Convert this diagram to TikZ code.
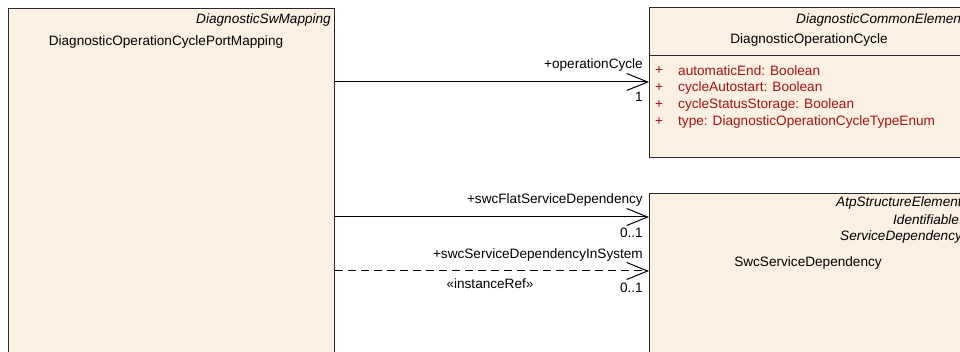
\documentclass[tikz,border=0pt]{standalone}
\usepackage{fontspec}
\setmainfont{Liberation Sans}
\usetikzlibrary{arrows.meta}
\definecolor{boxfill}{RGB}{251,240,225}
\definecolor{boxline}{RGB}{40,40,40}
\definecolor{attr}{RGB}{160,20,20}
\tikzset{
  umlbox/.style={draw=boxline, line width=1.2pt, fill=boxfill, anchor=north west, inner sep=0pt},
  txt/.style={inner sep=0pt, font=\fontsize{13.6}{15}\selectfont},
  stereo/.style={txt, font=\fontsize{13.6}{15}\selectfont\itshape},
  attrtxt/.style={txt, text=attr, anchor=west},
  assoc/.style={line width=1pt, -{Straight Barb[length=21pt,width=17pt,line width=1pt]}},
  lbl/.style={txt, anchor=east},
}
\begin{document}
\begin{tikzpicture}[x=1pt,y=-1pt]
\useasboundingbox (0,0) rectangle (960,352);
\clip (0,0) rectangle (960,352);
% boxes
\node[umlbox, minimum width=326, minimum height=400] (map) at (8,8) {};
\node[umlbox, minimum width=400, minimum height=150] (opc) at (649,7) {};
\node[umlbox, minimum width=400, minimum height=300] (swc) at (649,193) {};
\draw[boxline, line width=1pt] (opc.west |- 0,56) coordinate (sepL) -- (opc.east |- 0,56) coordinate (sepR);
% left box texts
\node[stereo, anchor=east] (mapst) at (331,20) {DiagnosticSwMapping};
\node[txt] (mapname) at (166,42) {DiagnosticOperationCyclePortMapping};
% top right texts
\node[stereo, anchor=west] (opcst) at (796,20) {DiagnosticCommonElement};
\node[txt] (opcname) at (809,40) {DiagnosticOperationCycle};
\foreach \yy/\tt [count=\i] in {71/automaticEnd: Boolean, 88/cycleAutostart: Boolean, 105/cycleStatusStorage: Boolean, 122/type: DiagnosticOperationCycleTypeEnum}{
  \node[attrtxt] (plus\i) at (655,\yy) {+};
  \node[attrtxt] (attr\i) at (678,\yy) {\tt};
}
% bottom right texts
\node[stereo, anchor=west] (swcst1) at (836,203) {AtpStructureElement};
\node[stereo, anchor=west] (swcst2) at (893,220) {Identifiable};
\node[stereo, anchor=west] (swcst3) at (840,237) {ServiceDependency};
\node[txt] (swcname) at (808,263) {SwcServiceDependency};
% connectors
\coordinate (y1) at (0,82);
\coordinate (y2) at (0,217);
\coordinate (y3) at (0,271);
\draw[assoc] (map.east |- y1) -- (opc.west |- y1);
\draw[assoc] (map.east |- y2) -- (swc.west |- y2);
\draw[assoc, dash pattern=on 8pt off 5pt] (map.east |- y3) -- (swc.west |- y3);
% labels
\node[lbl] (l1) at (643,65) {+operationCycle};
\node[lbl] (m1) at (643,97) {1};
\node[lbl] (l2) at (643,200) {+swcFlatServiceDependency};
\node[lbl] (m2) at (643,233) {0..1};
\node[lbl] (l3) at (643,255) {+swcServiceDependencyInSystem};
\node[lbl] (m3) at (643,288) {0..1};
\node[txt] (st3) at (490,284) {«instanceRef»};
\end{tikzpicture}
\end{document}
